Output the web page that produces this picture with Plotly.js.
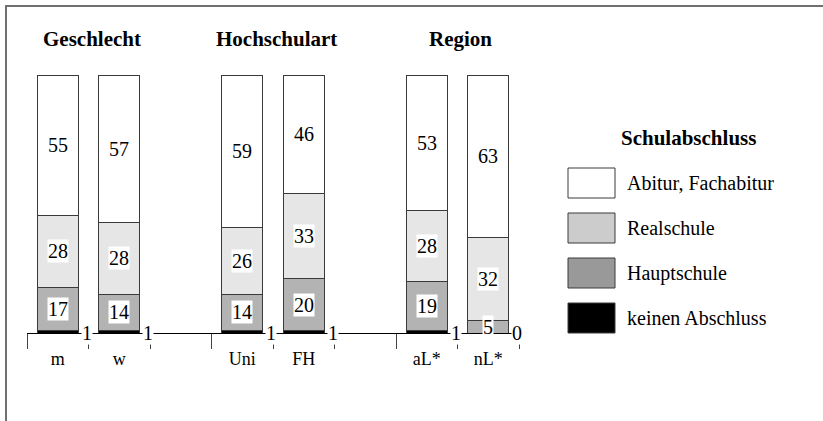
<!DOCTYPE html>
<html><head><meta charset="utf-8">
<script src="https://cdn.plot.ly/plotly-3.0.1.min.js"></script>
<style>
html,body{margin:0;padding:0;background:#fff}
#chart{width:823px;height:421px}
</style>
</head><body><div id="chart"></div>
<script>
const groups = ['Geschlecht', 'Hochschulart', 'Region'];
const categories = ['m', 'w', 'Uni', 'FH', 'aL*', 'nL*'];
const groupIndex = [0, 0, 1, 1, 2, 2];
const seriesNames = ['Abitur, Fachabitur', 'Realschule', 'Hauptschule', 'keinen Abschluss'];
const abitur = [55, 57, 59, 46, 53, 63];
const realschule = [28, 28, 26, 33, 28, 32];
const hauptschule = [17, 14, 14, 20, 19, 5];
const keinenAbschluss = [1, 1, 1, 1, 1, 0];
const legendTitle = 'Schulabschluss';

const SERIF = 'Liberation Serif, Times New Roman, serif';
const barColors = ['#ffffff', '#e6e6e6', '#b3b3b3', '#000000'];
const legendColors = ['#ffffff', '#cccccc', '#999999', '#000000'];
const series = [abitur, realschule, hauptschule, keinenAbschluss];

// category axis with a blank spacer slot between groups
const axisCats = [], catPos = [];
categories.forEach((c, i) => {
  if (i > 0 && groupIndex[i] !== groupIndex[i - 1]) axisCats.push(' '.repeat(groupIndex[i]));
  catPos.push(axisCats.length);
  axisCats.push(c);
});

// stacking order bottom -> top
const stackOrder = [3, 2, 1, 0];
const traces = stackOrder.map(k => ({
  type: 'bar', name: seriesNames[k], x: categories, y: series[k],
  marker: {color: barColors[k], line: {color: '#3a3a3a', width: 1}},
  width: 0.67, hoverinfo: 'name+y', showlegend: false
}));

const annotations = [];
categories.forEach((c, i) => {
  const total = series.reduce((s, arr) => s + arr[i], 0);
  let cum = 0;
  stackOrder.forEach(k => {
    const v = series[k][i];
    const mid = (cum + v / 2) / total * 100;
    const isSmall = k === 3;
    annotations.push({x: isSmall ? catPos[i] + 0.47 : catPos[i], y: isSmall ? 0 : mid, xref: 'x', yref: 'y',
      text: String(v), showarrow: false, xanchor: 'center', yanchor: 'middle', bgcolor: '#ffffff', borderpad: 0,
      font: {family: SERIF, size: 20, color: '#000'}});
    cum += v;
  });
});

// pixel -> paper helpers
const M = {l: 27, r: 304, t: 75, b: 88};
const PW = 823 - M.l - M.r, PH = 421 - M.t - M.b;
const px = v => (v - M.l) / PW;
const py = v => (M.t + PH - v) / PH;

// group titles
groups.forEach((g, gi) => {
  const ps = catPos.filter((p, i) => groupIndex[i] === gi);
  const xm = ps.reduce((a, b) => a + b, 0) / ps.length;
  annotations.push({x: xm, y: py(39), xref: 'x', yref: 'paper', text: '<b>' + g + '</b>', showarrow: false,
    xanchor: 'center', yanchor: 'middle', xshift: 3, font: {family: SERIF, size: 21, color: '#000'}});
});

const shapes = [
  {type: 'line', xref: 'paper', yref: 'paper', x0: px(5), x1: px(830), y0: py(6), y1: py(6), line: {color: '#707070', width: 2}},
  {type: 'line', xref: 'paper', yref: 'paper', x0: px(6), x1: px(6), y0: py(5), y1: py(430), line: {color: '#707070', width: 2}}
];
annotations.push({x: px(688), y: py(138), xref: 'paper', yref: 'paper', text: '<b>' + legendTitle + '</b>',
  showarrow: false, xanchor: 'center', yanchor: 'middle', font: {family: SERIF, size: 21, color: '#000'}});
seriesNames.forEach((n, k) => {
  const top = 168 + 45 * k;
  shapes.push({type: 'rect', xref: 'paper', yref: 'paper', x0: px(568), x1: px(615), y0: py(top), y1: py(top + 30),
    fillcolor: legendColors[k], line: {color: '#3a3a3a', width: 1}});
  annotations.push({x: px(625), y: py(top + 15), xref: 'paper', yref: 'paper', text: n, showarrow: false,
    xanchor: 'left', yanchor: 'middle', font: {family: SERIF, size: 20, color: '#000'}});
});

const layout = {
  width: 823, height: 421, margin: M,
  paper_bgcolor: '#fff', plot_bgcolor: '#fff',
  barmode: 'stack', barnorm: 'percent',
  xaxis: {type: 'category', categoryorder: 'array', categoryarray: axisCats, range: [-0.5, axisCats.length - 0.5],
    tickson: 'boundaries', ticks: 'outside', ticklen: 15, tickcolor: '#444', tickwidth: 1, ticklabelstandoff: 9,
    showline: true, linecolor: '#000', linewidth: 1, showgrid: false, zeroline: false, fixedrange: true,
    tickfont: {family: SERIF, size: 18, color: '#000'}},
  yaxis: {range: [0, 100], visible: false, showgrid: false, zeroline: false, fixedrange: true},
  annotations: annotations, shapes: shapes, showlegend: false
};
Plotly.newPlot('chart', traces, layout, {staticPlot: true});
</script>
</body></html>
